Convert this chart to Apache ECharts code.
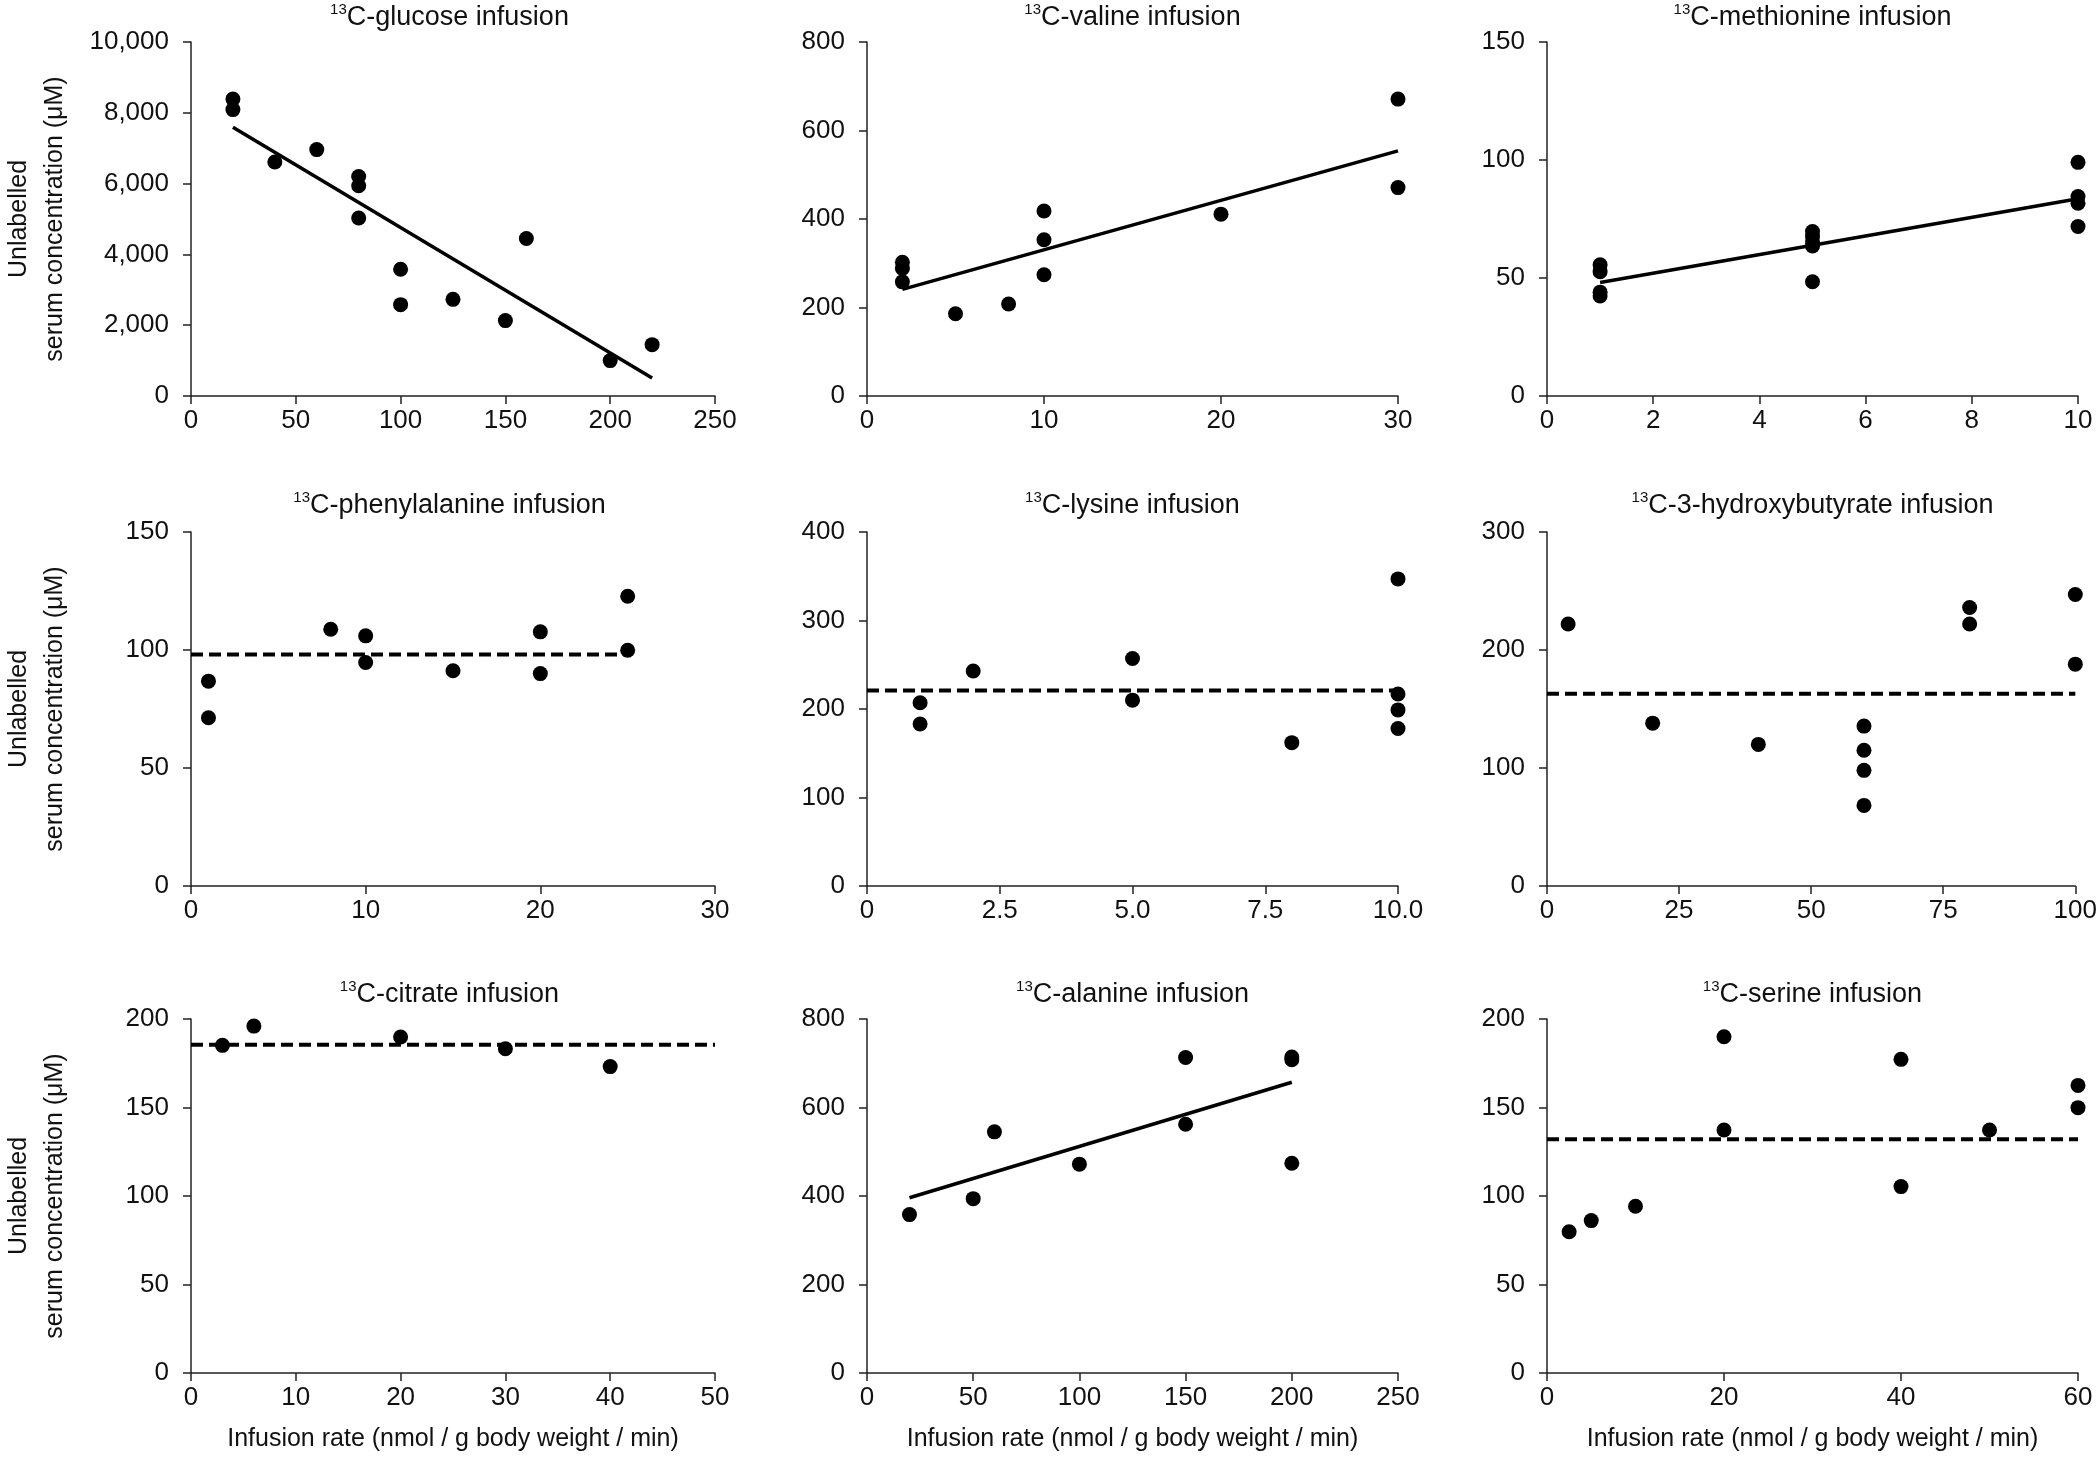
<!DOCTYPE html>
<html><head><meta charset="utf-8">
<script src="https://cdn.jsdelivr.net/npm/echarts@6/dist/echarts.min.js"></script>
<style>html,body{margin:0;padding:0;background:#fff}#c{width:2100px;height:1462px}</style>
</head><body><div id="c"></div>
<script>
// ---- data ----
const panelNames = ['glucose', 'valine', 'methionine', 'phenylalanine', 'lysine', '3-hydroxybutyrate', 'citrate', 'alanine', 'serine'];
const xTicks = [
  [0, 50, 100, 150, 200, 250],
  [0, 10, 20, 30],
  [0, 2, 4, 6, 8, 10],
  [0, 10, 20, 30],
  [0, 2.5, 5, 7.5, 10],
  [0, 25, 50, 75, 100],
  [0, 10, 20, 30, 40, 50],
  [0, 50, 100, 150, 200, 250],
  [0, 20, 40, 60]
];
const yTicks = [
  [0, 2000, 4000, 6000, 8000, 10000],
  [0, 200, 400, 600, 800],
  [0, 50, 100, 150],
  [0, 50, 100, 150],
  [0, 100, 200, 300, 400],
  [0, 100, 200, 300],
  [0, 50, 100, 150, 200],
  [0, 200, 400, 600, 800],
  [0, 50, 100, 150, 200]
];

const glucoseX = [20, 20, 40, 60, 80, 80, 80, 100, 100, 125, 150, 160, 200, 220];
const glucoseY = [8390, 8090, 6610, 6960, 6200, 5940, 5030, 3580, 2580, 2730, 2130, 4450, 1000, 1450];
const glucoseFit = [[20, 7590], [220, 510]];

const valineX = [2, 2, 2, 5, 8, 10, 10, 10, 20, 30, 30];
const valineY = [302, 288, 258, 186, 208, 418, 353, 274, 411, 671, 471];
const valineFit = [[2, 241], [30, 554]];

const methionineX = [1, 1, 1, 1, 5, 5, 5, 5, 5, 10, 10, 10, 10];
const methionineY = [55.6, 52.7, 44, 42.4, 69.7, 67.6, 65.5, 63.6, 48.4, 99, 84.5, 81.7, 71.8];
const methionineFit = [[1, 48.1], [10, 83.6]];

const phenylalanineX = [1, 1, 8, 10, 10, 15, 20, 20, 25, 25];
const phenylalanineY = [86.8, 71.3, 108.8, 106, 94.7, 91.2, 107.7, 90, 122.8, 99.9];
const phenylalanineMean = [[0, 98.1], [25, 98.1]];

const lysineX = [1, 1, 2, 5, 5, 8, 10, 10, 10, 10];
const lysineY = [207, 183, 243, 257, 210, 162, 347, 217, 199, 178];
const lysineMean = [[0, 221], [10, 221]];

const hydroxybutyrateX = [4, 20, 40, 60, 60, 60, 60, 80, 80, 100, 100];
const hydroxybutyrateY = [222, 138, 120, 135.5, 115, 98, 68.3, 236, 222, 247, 188];
const hydroxybutyrateMean = [[0, 163], [100, 163]];

const citrateX = [3, 6, 20, 30, 40];
const citrateY = [185.1, 196, 189.8, 183.2, 173.1];
const citrateMean = [[0, 185.5], [50, 185.5]];

const alanineX = [20, 50, 60, 100, 150, 150, 200, 200, 200];
const alanineY = [358, 394, 545, 472, 713, 562, 714, 708, 474];
const alanineFit = [[20, 396], [200, 657]];

const serineX = [2.5, 5, 10, 20, 20, 40, 40, 50, 60, 60];
const serineY = [79.8, 86.1, 94.2, 190, 137.3, 177.2, 105.3, 137.3, 162.5, 149.9];
const serineMean = [[0, 132], [60, 132]];

const pointsX = [glucoseX, valineX, methionineX, phenylalanineX, lysineX, hydroxybutyrateX, citrateX, alanineX, serineX];
const pointsY = [glucoseY, valineY, methionineY, phenylalanineY, lysineY, hydroxybutyrateY, citrateY, alanineY, serineY];
const fitLines = [glucoseFit, valineFit, methionineFit, phenylalanineMean, lysineMean, hydroxybutyrateMean, citrateMean, alanineFit, serineMean];
const fitDashed = [false, false, false, true, true, true, true, false, true];

const yAxisTitle = 'Unlabelled\nserum concentration (\u03bcM)';
const xAxisTitle = 'Infusion rate (nmol / g body weight / min)';

// ---- layout ----
const FONT = '"Liberation Sans", Arial, Helvetica, sans-serif';
const colLeft = [184, 867, 1547];
const rowTop = [42, 532, 1019];
const plotW = 531, plotH = 354;
const titleTop = [2, 490, 979];

const grids = [], xAxes = [], yAxes = [], series = [], titles = [];
for (let i = 0; i < 9; i++) {
  const r = Math.floor(i / 3), c = i % 3;
  grids.push({ left: colLeft[c], top: rowTop[r], width: plotW, height: plotH, containLabel: false });
  const xt = xTicks[i], yt = yTicks[i];
  const axisCommon = {
    axisLine: { show: true, onZero: false, lineStyle: { color: '#222', width: 1.5 } },
    axisTick: { show: true, inside: false, length: 8, lineStyle: { color: '#222', width: 1.5 } },
    splitLine: { show: false }
  };
  xAxes.push(Object.assign({
    type: 'value', gridIndex: i,
    min: xt[0], max: xt[xt.length - 1], interval: xt[1] - xt[0],
    axisLabel: {
      fontFamily: FONT, fontSize: 26, color: '#111', margin: 12,
      formatter: (v) => (i === 4 && v !== 0) ? v.toFixed(1) : String(v)
    },
    name: r === 2 ? xAxisTitle : '',
    nameLocation: 'middle', nameGap: 54,
    nameTextStyle: { fontFamily: FONT, fontSize: 25, color: '#111' }
  }, axisCommon));
  yAxes.push(Object.assign({
    type: 'value', gridIndex: i,
    min: yt[0], max: yt[yt.length - 1], interval: yt[1] - yt[0],
    axisLabel: {
      fontFamily: FONT, fontSize: 26, color: '#111', margin: 22,
      formatter: (v) => v.toLocaleString('en-US')
    },
    name: c === 0 ? yAxisTitle : '',
    nameLocation: 'middle', nameGap: 118, nameRotate: 90,
    nameTextStyle: { fontFamily: FONT, fontSize: 25, color: '#111', lineHeight: 36 }
  }, axisCommon));
  series.push({
    type: 'line', xAxisIndex: i, yAxisIndex: i,
    data: fitLines[i], symbol: 'none', showSymbol: false, silent: true, z: 2,
    lineStyle: { color: '#000', width: fitDashed[i] ? 4 : 3.5, type: fitDashed[i] ? [12, 6] : 'solid' }
  });
  series.push({
    type: 'scatter', xAxisIndex: i, yAxisIndex: i,
    data: pointsX[i].map((x, k) => [x, pointsY[i][k]]),
    symbol: 'circle', symbolSize: 15, silent: true, z: 3,
    itemStyle: { color: '#000', opacity: 1 }
  });
  titles.push({
    text: '{s|13}{n|C-' + panelNames[i] + ' infusion}',
    left: colLeft[c] + plotW / 2, top: titleTop[r], textAlign: 'center', padding: 0,
    textStyle: {
      fontWeight: 'normal',
      rich: {
        s: { fontFamily: FONT, fontSize: 15, fontWeight: 'normal', color: '#111', verticalAlign: 'top', lineHeight: 22 },
        n: { fontFamily: FONT, fontSize: 27, fontWeight: 'normal', color: '#111', lineHeight: 31 }
      }
    }
  });
}

const chart = echarts.init(document.getElementById('c'), null, { renderer: 'canvas' });
chart.setOption({
  animation: false,
  backgroundColor: '#fff',
  title: titles,
  grid: grids,
  xAxis: xAxes,
  yAxis: yAxes,
  series: series
});
</script>
</body></html>
